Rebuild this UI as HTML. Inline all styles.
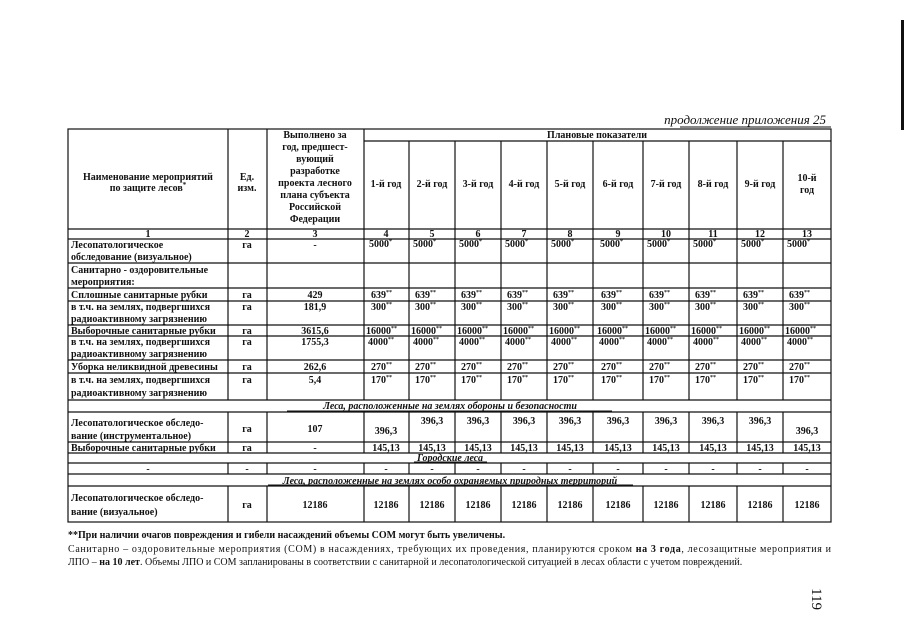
<!DOCTYPE html>
<html><head><meta charset="utf-8"><style>
html,body{margin:0;padding:0;background:#fff;width:905px;height:640px;overflow:hidden}
svg{display:block}
text{font-family:"Liberation Serif",serif;font-size:10px;fill:#111}
.c{text-anchor:middle}
.b{font-weight:bold}
.i{font-style:italic;font-weight:bold}
</style></head><body>
<svg width="905" height="640" viewBox="0 0 905 640">
<rect x="901" y="20" width="3" height="110" fill="#111"/>
<text x="826" y="124" style="font-size:13px;font-style:italic;text-anchor:end">продолжение приложения 25</text>
<line x1="680" y1="127" x2="831" y2="127" stroke="#111" stroke-width="1"/>
<g stroke="#111" stroke-width="1.2" fill="none">
<rect x="68" y="129" width="763" height="393"/>
<line x1="364" y1="141" x2="831" y2="141"/>
<line x1="68" y1="229" x2="831" y2="229"/>
<line x1="68" y1="239" x2="831" y2="239"/>
<line x1="68" y1="263" x2="831" y2="263"/>
<line x1="68" y1="288" x2="831" y2="288"/>
<line x1="68" y1="301" x2="831" y2="301"/>
<line x1="68" y1="325" x2="831" y2="325"/>
<line x1="68" y1="336" x2="831" y2="336"/>
<line x1="68" y1="360" x2="831" y2="360"/>
<line x1="68" y1="373" x2="831" y2="373"/>
<line x1="68" y1="400" x2="831" y2="400"/>
<line x1="68" y1="412" x2="831" y2="412"/>
<line x1="68" y1="442" x2="831" y2="442"/>
<line x1="68" y1="453" x2="831" y2="453"/>
<line x1="68" y1="463" x2="831" y2="463"/>
<line x1="68" y1="474" x2="831" y2="474"/>
<line x1="68" y1="486" x2="831" y2="486"/>
<path d="M228 129V400M267 129V400M364 129V400M409 141V400M455 141V400M501 141V400M547 141V400M593 141V400M643 141V400M689 141V400M737 141V400M783 141V400"/>
<path d="M228 412V453M267 412V453M364 412V453M409 412V453M455 412V453M501 412V453M547 412V453M593 412V453M643 412V453M689 412V453M737 412V453M783 412V453"/>
<path d="M228 463V474M267 463V474M364 463V474M409 463V474M455 463V474M501 463V474M547 463V474M593 463V474M643 463V474M689 463V474M737 463V474M783 463V474"/>
<path d="M228 486V522M267 486V522M364 486V522M409 486V522M455 486V522M501 486V522M547 486V522M593 486V522M643 486V522M689 486V522M737 486V522M783 486V522"/>
</g>
<!-- header -->
<text class="c b" x="148" y="180">Наименование мероприятий</text>
<text class="c b" x="148" y="191">по защите лесов<tspan dy="-4" style="font-size:7px">*</tspan></text>
<text class="c b" x="247" y="180">Ед.</text>
<text class="c b" x="247" y="191">изм.</text>
<text class="c b" x="315" y="138">Выполнено за</text>
<text class="c b" x="315" y="150">год, предшест-</text>
<text class="c b" x="315" y="162">вующий</text>
<text class="c b" x="315" y="174">разработке</text>
<text class="c b" x="315" y="186">проекта лесного</text>
<text class="c b" x="315" y="198">плана субъекта</text>
<text class="c b" x="315" y="210">Российской</text>
<text class="c b" x="315" y="222">Федерации</text>
<text class="c b" x="597" y="138">Плановые показатели</text>
<text class="c b" x="386" y="187">1-й год</text>
<text class="c b" x="432" y="187">2-й год</text>
<text class="c b" x="478" y="187">3-й год</text>
<text class="c b" x="524" y="187">4-й год</text>
<text class="c b" x="570" y="187">5-й год</text>
<text class="c b" x="618" y="187">6-й год</text>
<text class="c b" x="666" y="187">7-й год</text>
<text class="c b" x="713" y="187">8-й год</text>
<text class="c b" x="760" y="187">9-й год</text>
<text class="c b" x="807" y="181">10-й</text>
<text class="c b" x="807" y="193">год</text>
<g class="b">
<text class="c" x="148" y="237">1</text><text class="c" x="247" y="237">2</text><text class="c" x="315" y="237">3</text>
<text class="c" x="386" y="237">4</text><text class="c" x="432" y="237">5</text><text class="c" x="478" y="237">6</text>
<text class="c" x="524" y="237">7</text><text class="c" x="570" y="237">8</text><text class="c" x="618" y="237">9</text>
<text class="c" x="666" y="237">10</text><text class="c" x="713" y="237">11</text><text class="c" x="760" y="237">12</text><text class="c" x="807" y="237">13</text>
</g>
<!-- row labels -->
<text class="b" x="71" y="248">Лесопатологическое</text>
<text class="b" x="71" y="260">обследование (визуальное)</text>
<text class="c b" x="247" y="248">га</text><text class="c b" x="315" y="248">-</text>
<text class="b" x="71" y="273">Санитарно - оздоровительные</text>
<text class="b" x="71" y="285">мероприятия:</text>
<text class="b" x="71" y="298">Сплошные санитарные рубки</text>
<text class="c b" x="247" y="298">га</text><text class="c b" x="315" y="298">429</text>
<text class="b" x="71" y="310">в т.ч. на землях, подвергшихся</text>
<text class="b" x="71" y="322">радиоактивному загрязнению</text>
<text class="c b" x="247" y="310">га</text><text class="c b" x="315" y="310">181,9</text>
<text class="b" x="71" y="334">Выборочные санитарные рубки</text>
<text class="c b" x="247" y="334">га</text><text class="c b" x="315" y="334">3615,6</text>
<text class="b" x="71" y="345">в т.ч. на землях, подвергшихся</text>
<text class="b" x="71" y="357">радиоактивному загрязнению</text>
<text class="c b" x="247" y="345">га</text><text class="c b" x="315" y="345">1755,3</text>
<text class="b" x="71" y="370">Уборка неликвидной древесины</text>
<text class="c b" x="247" y="370">га</text><text class="c b" x="315" y="370">262,6</text>
<text class="b" x="71" y="383">в т.ч. на землях, подвергшихся</text>
<text class="b" x="71" y="396">радиоактивному загрязнению</text>
<text class="c b" x="247" y="383">га</text><text class="c b" x="315" y="383">5,4</text>
<!-- plan values -->
<g class="b" style="font-size:10px">
<text x="369" y="247">5000<tspan dy="-4" style="font-size:6px">*</tspan></text><text x="413" y="247">5000<tspan dy="-4" style="font-size:6px">*</tspan></text><text x="459" y="247">5000<tspan dy="-4" style="font-size:6px">*</tspan></text><text x="505" y="247">5000<tspan dy="-4" style="font-size:6px">*</tspan></text><text x="551" y="247">5000<tspan dy="-4" style="font-size:6px">*</tspan></text><text x="600" y="247">5000<tspan dy="-4" style="font-size:6px">*</tspan></text><text x="647" y="247">5000<tspan dy="-4" style="font-size:6px">*</tspan></text><text x="693" y="247">5000<tspan dy="-4" style="font-size:6px">*</tspan></text><text x="741" y="247">5000<tspan dy="-4" style="font-size:6px">*</tspan></text><text x="787" y="247">5000<tspan dy="-4" style="font-size:6px">*</tspan></text>
<text x="371" y="298">639<tspan dy="-4" style="font-size:6px">**</tspan></text><text x="415" y="298">639<tspan dy="-4" style="font-size:6px">**</tspan></text><text x="461" y="298">639<tspan dy="-4" style="font-size:6px">**</tspan></text><text x="507" y="298">639<tspan dy="-4" style="font-size:6px">**</tspan></text><text x="553" y="298">639<tspan dy="-4" style="font-size:6px">**</tspan></text><text x="601" y="298">639<tspan dy="-4" style="font-size:6px">**</tspan></text><text x="649" y="298">639<tspan dy="-4" style="font-size:6px">**</tspan></text><text x="695" y="298">639<tspan dy="-4" style="font-size:6px">**</tspan></text><text x="743" y="298">639<tspan dy="-4" style="font-size:6px">**</tspan></text><text x="789" y="298">639<tspan dy="-4" style="font-size:6px">**</tspan></text>
<text x="371" y="310">300<tspan dy="-4" style="font-size:6px">**</tspan></text><text x="415" y="310">300<tspan dy="-4" style="font-size:6px">**</tspan></text><text x="461" y="310">300<tspan dy="-4" style="font-size:6px">**</tspan></text><text x="507" y="310">300<tspan dy="-4" style="font-size:6px">**</tspan></text><text x="553" y="310">300<tspan dy="-4" style="font-size:6px">**</tspan></text><text x="601" y="310">300<tspan dy="-4" style="font-size:6px">**</tspan></text><text x="649" y="310">300<tspan dy="-4" style="font-size:6px">**</tspan></text><text x="695" y="310">300<tspan dy="-4" style="font-size:6px">**</tspan></text><text x="743" y="310">300<tspan dy="-4" style="font-size:6px">**</tspan></text><text x="789" y="310">300<tspan dy="-4" style="font-size:6px">**</tspan></text>
<text x="366" y="334">16000<tspan dy="-4" style="font-size:6px">**</tspan></text><text x="411" y="334">16000<tspan dy="-4" style="font-size:6px">**</tspan></text><text x="457" y="334">16000<tspan dy="-4" style="font-size:6px">**</tspan></text><text x="503" y="334">16000<tspan dy="-4" style="font-size:6px">**</tspan></text><text x="549" y="334">16000<tspan dy="-4" style="font-size:6px">**</tspan></text><text x="597" y="334">16000<tspan dy="-4" style="font-size:6px">**</tspan></text><text x="645" y="334">16000<tspan dy="-4" style="font-size:6px">**</tspan></text><text x="691" y="334">16000<tspan dy="-4" style="font-size:6px">**</tspan></text><text x="739" y="334">16000<tspan dy="-4" style="font-size:6px">**</tspan></text><text x="785" y="334">16000<tspan dy="-4" style="font-size:6px">**</tspan></text>
<text x="368" y="345">4000<tspan dy="-4" style="font-size:6px">**</tspan></text><text x="413" y="345">4000<tspan dy="-4" style="font-size:6px">**</tspan></text><text x="459" y="345">4000<tspan dy="-4" style="font-size:6px">**</tspan></text><text x="505" y="345">4000<tspan dy="-4" style="font-size:6px">**</tspan></text><text x="551" y="345">4000<tspan dy="-4" style="font-size:6px">**</tspan></text><text x="599" y="345">4000<tspan dy="-4" style="font-size:6px">**</tspan></text><text x="647" y="345">4000<tspan dy="-4" style="font-size:6px">**</tspan></text><text x="693" y="345">4000<tspan dy="-4" style="font-size:6px">**</tspan></text><text x="741" y="345">4000<tspan dy="-4" style="font-size:6px">**</tspan></text><text x="787" y="345">4000<tspan dy="-4" style="font-size:6px">**</tspan></text>
<text x="371" y="370">270<tspan dy="-4" style="font-size:6px">**</tspan></text><text x="415" y="370">270<tspan dy="-4" style="font-size:6px">**</tspan></text><text x="461" y="370">270<tspan dy="-4" style="font-size:6px">**</tspan></text><text x="507" y="370">270<tspan dy="-4" style="font-size:6px">**</tspan></text><text x="553" y="370">270<tspan dy="-4" style="font-size:6px">**</tspan></text><text x="601" y="370">270<tspan dy="-4" style="font-size:6px">**</tspan></text><text x="649" y="370">270<tspan dy="-4" style="font-size:6px">**</tspan></text><text x="695" y="370">270<tspan dy="-4" style="font-size:6px">**</tspan></text><text x="743" y="370">270<tspan dy="-4" style="font-size:6px">**</tspan></text><text x="789" y="370">270<tspan dy="-4" style="font-size:6px">**</tspan></text>
<text x="371" y="383">170<tspan dy="-4" style="font-size:6px">**</tspan></text><text x="415" y="383">170<tspan dy="-4" style="font-size:6px">**</tspan></text><text x="461" y="383">170<tspan dy="-4" style="font-size:6px">**</tspan></text><text x="507" y="383">170<tspan dy="-4" style="font-size:6px">**</tspan></text><text x="553" y="383">170<tspan dy="-4" style="font-size:6px">**</tspan></text><text x="601" y="383">170<tspan dy="-4" style="font-size:6px">**</tspan></text><text x="649" y="383">170<tspan dy="-4" style="font-size:6px">**</tspan></text><text x="695" y="383">170<tspan dy="-4" style="font-size:6px">**</tspan></text><text x="743" y="383">170<tspan dy="-4" style="font-size:6px">**</tspan></text><text x="789" y="383">170<tspan dy="-4" style="font-size:6px">**</tspan></text>
</g>
<!-- section 1 -->
<text class="c i" x="450" y="409">Леса, расположенные на землях обороны и безопасности</text>
<line x1="287" y1="411" x2="612" y2="411" stroke="#111"/>
<text class="b" x="71" y="426">Лесопатологическое обследо-</text>
<text class="b" x="71" y="439">вание (инструментальное)</text>
<text class="c b" x="247" y="432">га</text><text class="c b" x="315" y="432">107</text>
<text class="c b" x="386" y="434">396,3</text>
<text class="c b" x="432" y="424">396,3</text><text class="c b" x="478" y="424">396,3</text><text class="c b" x="524" y="424">396,3</text><text class="c b" x="570" y="424">396,3</text><text class="c b" x="618" y="424">396,3</text><text class="c b" x="666" y="424">396,3</text><text class="c b" x="713" y="424">396,3</text><text class="c b" x="760" y="424">396,3</text>
<text class="c b" x="807" y="434">396,3</text>
<text class="b" x="71" y="451">Выборочные санитарные рубки</text>
<text class="c b" x="247" y="451">га</text><text class="c b" x="315" y="451">-</text>
<g class="b"><text class="c" x="386" y="451">145,13</text><text class="c" x="432" y="451">145,13</text><text class="c" x="478" y="451">145,13</text><text class="c" x="524" y="451">145,13</text><text class="c" x="570" y="451">145,13</text><text class="c" x="618" y="451">145,13</text><text class="c" x="666" y="451">145,13</text><text class="c" x="713" y="451">145,13</text><text class="c" x="760" y="451">145,13</text><text class="c" x="807" y="451">145,13</text></g>
<text class="c i" x="450" y="461">Городские леса</text>
<line x1="414" y1="462" x2="487" y2="462" stroke="#111"/>
<g class="b"><text class="c" x="148" y="472">-</text><text class="c" x="247" y="472">-</text><text class="c" x="315" y="472">-</text><text class="c" x="386" y="472">-</text><text class="c" x="432" y="472">-</text><text class="c" x="478" y="472">-</text><text class="c" x="524" y="472">-</text><text class="c" x="570" y="472">-</text><text class="c" x="618" y="472">-</text><text class="c" x="666" y="472">-</text><text class="c" x="713" y="472">-</text><text class="c" x="760" y="472">-</text><text class="c" x="807" y="472">-</text></g>
<text class="c i" x="450" y="484">Леса, расположенные на землях особо охраняемых природных территорий</text>
<line x1="268" y1="485" x2="633" y2="485" stroke="#111"/>
<text class="b" x="71" y="501">Лесопатологическое обследо-</text>
<text class="b" x="71" y="515">вание (визуальное)</text>
<text class="c b" x="247" y="508">га</text>
<g class="b"><text class="c" x="315" y="508">12186</text><text class="c" x="386" y="508">12186</text><text class="c" x="432" y="508">12186</text><text class="c" x="478" y="508">12186</text><text class="c" x="524" y="508">12186</text><text class="c" x="570" y="508">12186</text><text class="c" x="618" y="508">12186</text><text class="c" x="666" y="508">12186</text><text class="c" x="713" y="508">12186</text><text class="c" x="760" y="508">12186</text><text class="c" x="807" y="508">12186</text></g>
<!-- footnotes -->
<text class="b" x="68" y="538">**При наличии очагов повреждения и гибели насаждений объемы СОМ могут быть увеличены.</text>
<text x="68" y="552" textLength="763" lengthAdjust="spacing">Санитарно – оздоровительные мероприятия (СОМ) в насаждениях, требующих их проведения, планируются сроком <tspan class="b">на 3 года</tspan>, лесозащитные мероприятия и</text>
<text x="68" y="565">ЛПО – <tspan class="b">на 10 лет</tspan>. Объемы ЛПО и СОМ запланированы в соответствии с санитарной и лесопатологической ситуацией в лесах области с учетом повреждений.</text>
<text style="font-size:15px" transform="translate(812,588) rotate(90)">119</text>
</svg>
</body></html>
